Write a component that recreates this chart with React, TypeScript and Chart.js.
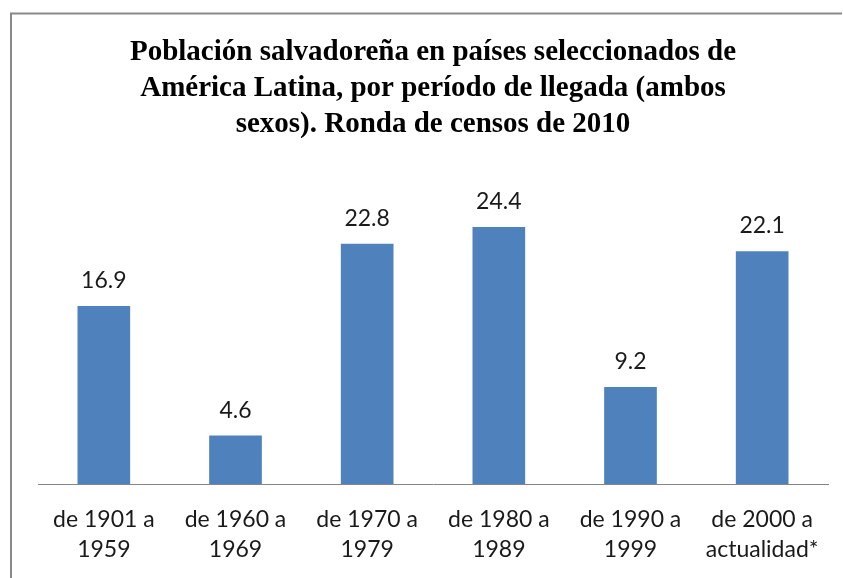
import React, { useEffect, useRef } from "react";
import { Chart, registerables } from "chart.js";

Chart.register(...registerables);

const categories: string[][] = [
  ["de 1901 a", "1959"],
  ["de 1960 a", "1969"],
  ["de 1970 a", "1979"],
  ["de 1980 a", "1989"],
  ["de 1990 a", "1999"],
  ["de 2000 a", "actualidad*"],
];
const values: number[] = [16.9, 4.6, 22.8, 24.4, 9.2, 22.1];
const titleLines: string[] = [
  "Población salvadoreña en países seleccionados de",
  "América Latina, por período de llegada (ambos",
  "sexos). Ronda de censos de 2010",
];

const W = 843;
const H = 578;

export default function App() {
  const ref = useRef<HTMLCanvasElement | null>(null);

  useEffect(() => {
    if (!ref.current) return;
    const frame = {
      id: "frame",
      beforeDraw(chart: any) {
        const ctx = chart.ctx;
        ctx.save();
        ctx.fillStyle = "#ffffff";
        ctx.fillRect(0, 0, W, H);
        ctx.strokeStyle = "#898989";
        ctx.lineWidth = 2;
        ctx.beginPath();
        ctx.moveTo(11, H + 5);
        ctx.lineTo(11, 13.5);
        ctx.lineTo(842, 13.5);
        ctx.stroke();
        ctx.restore();
      },
    };
    const dataLabels = {
      id: "dataLabels",
      afterDatasetsDraw(chart: any) {
        const ctx = chart.ctx;
        const meta = chart.getDatasetMeta(0);
        ctx.save();
        ctx.font = "23px Lato";
        ctx.fillStyle = "#1a1a1a";
        ctx.textAlign = "center";
        ctx.textBaseline = "alphabetic";
        meta.data.forEach((el: any, i: number) => {
          ctx.fillText(values[i].toFixed(1), el.x, el.y - 18);
        });
        ctx.restore();
      },
    };
    const chart = new Chart(ref.current, {
      type: "bar",
      data: {
        labels: categories,
        datasets: [
          {
            data: values,
            backgroundColor: "#4F81BD",
            borderWidth: 0,
            categoryPercentage: 1,
            barPercentage: 0.4,
          },
        ],
      },
      options: {
        responsive: false,
        animation: false,
        layout: { padding: { left: 38, right: 15, top: 0, bottom: 0 } },
        plugins: {
          legend: { display: false },
          tooltip: { enabled: false },
          title: {
            display: true,
            text: titleLines,
            color: "#000000",
            font: { family: "Liberation Serif", size: 29, weight: "bold", lineHeight: 36 / 29 },
            padding: { top: 35, bottom: 25 },
          },
        },
        scales: {
          x: {
            grid: { display: false },
            border: { display: true, color: "#868686", width: 1 },
            ticks: {
              color: "#1a1a1a",
              font: { family: "Lato", size: 23, lineHeight: 1.3 },
              padding: 13,
              maxRotation: 0,
              autoSkip: false,
            },
            afterFit(scale: any) {
              scale.height = 94;
            },
          },
          y: {
            display: false,
            min: 0,
            max: 30,
          },
        },
      },
      plugins: [frame, dataLabels],
    });
    return () => chart.destroy();
  }, []);

  return (
    <canvas
      ref={ref}
      width={W}
      height={H}
      style={{ position: "fixed", left: 0, top: 0, display: "block" }}
    />
  );
}
